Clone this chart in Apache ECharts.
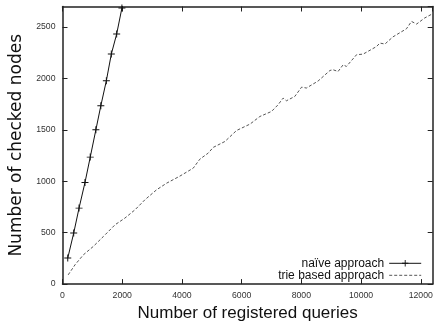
<!DOCTYPE html>
<html>
<head>
<meta charset="utf-8">
<script src="https://cdn.jsdelivr.net/npm/echarts@6/dist/echarts.min.js"></script>
<style>html,body{margin:0;padding:0;background:#fff}#c{width:441px;height:327px}</style>
</head>
<body>
<div id="c"></div>
<script>
// Data
const xTitle = "Number of registered queries";
const yTitle = "Number of checked nodes";
const seriesNames = ["naïve approach", "trie based approach"];
const naiveQueries = [176, 375, 554, 753, 929, 1118, 1284, 1469, 1635, 1814, 1990, 2170];
const naiveNodes   = [253, 496, 739, 988, 1235, 1501, 1735, 1978, 2237, 2432, 2685, 2930];
const trieQueries = [190, 420, 700, 1030, 1370, 1760, 2090, 2430, 2760, 3150, 3490, 3930, 4380, 4600, 4880, 5050, 5440, 5830, 6280, 6610, 7000, 7220, 7390, 7500, 7780, 8010, 8170, 8560, 8960, 9060, 9230, 9400, 9510, 9850, 10070, 10520, 10630, 10800, 11070, 11520, 11690, 11860, 12130, 12400];
const trieNodes   = [90, 188, 285, 366, 463, 577, 642, 723, 820, 917, 982, 1050, 1128, 1215, 1274, 1330, 1387, 1494, 1556, 1630, 1679, 1744, 1809, 1783, 1825, 1916, 1907, 1975, 2078, 2085, 2068, 2133, 2117, 2231, 2237, 2311, 2344, 2335, 2405, 2483, 2555, 2529, 2588, 2630];
const xMin = 0, xMax = 12400, xStep = 2000;
const yMin = 0, yMax = 2700, yStep = 500;

const zip = (a, b) => a.map((v, i) => [v, b[i]]);
const chart = echarts.init(document.getElementById('c'), null, {renderer: 'canvas'});
const plain = v => String(v);
const tickFont = {fontFamily: 'Liberation Sans', fontSize: 8.7, color: '#333', formatter: plain};
const frame = {show: true, onZero: false, lineStyle: {color: '#222', width: 1.5}};
const tick = {show: true, inside: true, length: 5, lineStyle: {color: '#222', width: 1}};
const plus = 'path://M-0.14,-1H0.14V-0.14H1V0.14H0.14V1H-0.14V0.14H-1V-0.14H-0.14Z';

chart.setOption({
  animation: false,
  backgroundColor: '#fff',
  grid: {left: 62.5, right: 8.3, top: 6.5, bottom: 42.7, containLabel: false},
  legend: {
    orient: 'vertical', right: 19.3, top: 257.3, padding: 0, itemGap: 0,
    align: 'right', itemWidth: 32, itemHeight: 8,
    textStyle: {fontFamily: 'Liberation Sans', fontSize: 12, color: '#111', lineHeight: 10},
    data: [
      {name: seriesNames[0], lineStyle: {width: 1, color: '#111'}},
      {name: seriesNames[1], lineStyle: {width: 1, color: '#555', type: [3, 2]}, itemStyle: {opacity: 0, color: 'transparent', borderWidth: 0}}
    ]
  },
  xAxis: [{
    type: 'value', position: 'bottom', min: xMin, max: xMax, interval: xStep,
    name: xTitle, nameLocation: 'middle', nameGap: 18,
    nameTextStyle: {fontFamily: 'Liberation Sans', fontSize: 17, color: '#111'},
    axisLine: frame, axisTick: tick, splitLine: {show: false},
    axisLabel: Object.assign({margin: 7, showMaxLabel: false}, tickFont)
  }, {
    type: 'value', position: 'top', min: xMin, max: xMax, interval: xStep,
    axisLine: frame, axisTick: tick, splitLine: {show: false}, axisLabel: {show: false}
  }],
  yAxis: [{
    type: 'value', position: 'left', min: yMin, max: yMax, interval: yStep,
    name: yTitle, nameLocation: 'middle', nameGap: 36,
    nameTextStyle: {fontFamily: 'DejaVu Sans', fontSize: 17, color: '#111'},
    axisLine: frame, axisTick: tick, splitLine: {show: false},
    axisLabel: Object.assign({margin: 7, showMaxLabel: false}, tickFont)
  }, {
    type: 'value', position: 'right', min: yMin, max: yMax, interval: yStep,
    axisLine: frame, axisTick: tick, splitLine: {show: false}, axisLabel: {show: false}
  }],
  series: [{
    name: seriesNames[0], type: 'line', data: zip(naiveQueries, naiveNodes),
    symbol: plus, symbolSize: 7, showAllSymbol: true, clip: true,
    lineStyle: {color: '#111', width: 1},
    itemStyle: {color: '#111'}
  }, {
    name: seriesNames[1], type: 'line', data: zip(trieQueries, trieNodes),
    symbol: 'none', clip: true,
    lineStyle: {color: '#555', width: 1, type: [3, 2]},
    itemStyle: {color: '#555'}
  }]
});
</script>
</body>
</html>
